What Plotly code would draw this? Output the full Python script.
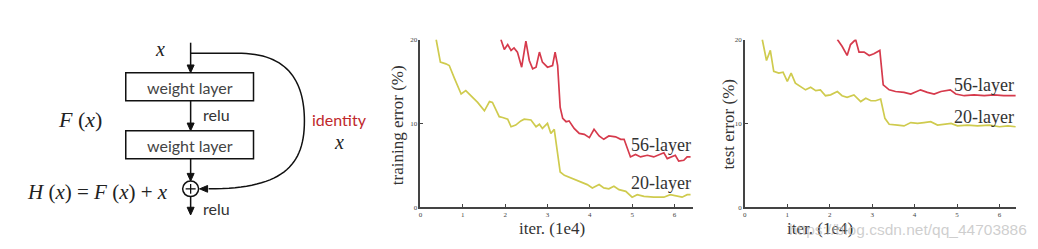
import plotly.graph_objects as go

W, H = 1038, 249

# ---- data ----
train20_x = [0.37, 0.47, 0.6, 0.68, 0.8, 0.96, 1.07, 1.19, 1.35, 1.51, 1.63, 1.70, 1.86, 1.94, 2.06, 2.14, 2.25, 2.37, 2.45, 2.61, 2.73, 2.81, 2.88, 3.0, 3.08, 3.16, 3.22, 3.3, 3.4, 3.55, 3.67, 3.83, 3.94, 4.06, 4.22, 4.33, 4.45, 4.57, 4.69, 4.85, 5.0, 5.12, 5.28, 5.51, 5.75, 5.9, 6.06, 6.18, 6.3, 6.38]
train20_y = [20, 17.3, 17.1, 16.9, 15.4, 13.5, 13.9, 13.3, 12.5, 11.5, 12.6, 12.5, 10.8, 10.7, 10.5, 9.6, 9.8, 10.3, 10.5, 10.4, 9.6, 9.9, 9.4, 10.0, 8.8, 9.3, 7.3, 4.2, 3.8, 3.5, 3.3, 2.9, 2.7, 2.3, 2.7, 2.3, 2.2, 2.5, 2.1, 1.9, 1.2, 1.5, 1.3, 1.2, 1.2, 1.5, 1.3, 1.2, 1.5, 1.5]
train56_x = [1.90, 1.98, 2.06, 2.14, 2.21, 2.29, 2.39, 2.49, 2.57, 2.65, 2.73, 2.81, 2.88, 3.0, 3.12, 3.18, 3.24, 3.3, 3.36, 3.44, 3.51, 3.63, 3.75, 3.87, 3.99, 4.1, 4.22, 4.33, 4.45, 4.61, 4.73, 4.81, 4.96, 5.08, 5.2, 5.36, 5.51, 5.75, 5.83, 5.94, 6.02, 6.1, 6.22, 6.3, 6.38]
train56_y = [20, 18.8, 19.4, 18.7, 19.0, 18.5, 16.7, 19.8, 17.5, 16.5, 16.7, 18.5, 17.3, 16.7, 16.9, 18.5, 16.9, 11.9, 10.6, 10.2, 10.3, 9.4, 8.8, 8.7, 8.3, 9.3, 8.5, 8.1, 8.5, 8.4, 8.1, 8.1, 6.0, 6.3, 6.0, 6.2, 6.0, 6.5, 5.8, 6.0, 6.2, 5.5, 5.6, 6.0, 6.0]
test20_x = [0.41, 0.51, 0.6, 0.68, 0.8, 0.9, 1.0, 1.09, 1.19, 1.31, 1.43, 1.55, 1.67, 1.78, 1.9, 2.02, 2.18, 2.29, 2.41, 2.57, 2.73, 2.85, 2.97, 3.08, 3.2, 3.3, 3.4, 3.6, 3.75, 3.91, 4.07, 4.22, 4.38, 4.54, 4.7, 4.86, 5.01, 5.25, 5.48, 5.76, 6.0, 6.2, 6.38]
test20_y = [20, 17.5, 18.7, 16.2, 16.0, 16.1, 15.0, 16.0, 14.8, 14.4, 14.0, 14.3, 13.9, 14.0, 13.3, 13.4, 13.8, 13.3, 13.1, 13.4, 12.6, 13.0, 12.7, 12.7, 12.9, 10.6, 9.9, 9.8, 9.7, 10.1, 10.0, 10.1, 10.2, 9.8, 9.9, 10.0, 9.7, 9.8, 9.7, 9.8, 9.6, 9.7, 9.6]
test56_x = [2.18, 2.29, 2.41, 2.49, 2.61, 2.69, 2.81, 2.93, 3.04, 3.18, 3.26, 3.4, 3.55, 3.75, 3.91, 4.14, 4.3, 4.46, 4.62, 4.84, 4.97, 5.17, 5.4, 5.64, 5.87, 6.1, 6.38]
test56_y = [20, 19.2, 18.1, 19.4, 20, 18.5, 18.5, 18.1, 18.3, 18.7, 14.6, 14.0, 13.8, 13.7, 13.5, 14.0, 13.7, 13.5, 13.8, 14.0, 13.5, 13.3, 13.4, 13.3, 13.4, 13.3, 13.3]

x_ticks = [0, 1, 2, 3, 4, 5, 6]
y_ticks = [0, 10, 20]

YELLOW = "#cfcb4e"
RED = "#d63a4c"

def px(x):
    return x / W

def py(y):
    return 1 - y / H

fig = go.Figure()
fig.add_trace(go.Scatter(x=train20_x, y=train20_y, mode="lines", line=dict(color=YELLOW, width=1.7), xaxis="x", yaxis="y"))
fig.add_trace(go.Scatter(x=train56_x, y=train56_y, mode="lines", line=dict(color=RED, width=1.7), xaxis="x", yaxis="y"))
fig.add_trace(go.Scatter(x=test20_x, y=test20_y, mode="lines", line=dict(color=YELLOW, width=1.7), xaxis="x2", yaxis="y2"))
fig.add_trace(go.Scatter(x=test56_x, y=test56_y, mode="lines", line=dict(color=RED, width=1.7), xaxis="x2", yaxis="y2"))

ydom = [py(210), py(36.7)]
axis_common = dict(showgrid=False, zeroline=False, showline=True, linecolor="#444", linewidth=1.6,
                   ticks="inside", ticklen=3, tickcolor="#444", tickwidth=1,
                   tickfont=dict(family="Liberation Serif", size=7, color="#444"))
fig.update_layout(
    width=W, height=H, margin=dict(l=0, r=0, t=0, b=0),
    paper_bgcolor="white", plot_bgcolor="white", showlegend=False,
    xaxis=dict(domain=[px(419.3), px(692)], range=[0, 6.43], tickvals=x_ticks, anchor="y", **axis_common),
    yaxis=dict(domain=ydom, range=[0, 20], tickvals=y_ticks, anchor="x", **axis_common),
    xaxis2=dict(domain=[px(744.3), px(1016)], range=[0, 6.39], tickvals=x_ticks, anchor="y2", **axis_common),
    yaxis2=dict(domain=ydom, range=[0, 20], tickvals=y_ticks, anchor="x2", **axis_common),
)

ann = []
def text(x, y, s, size, family, color="#333", angle=0, xanchor="center", italic=False):
    if italic:
        s = "<i>" + s + "</i>"
    ann.append(dict(x=px(x), y=py(y), xref="paper", yref="paper", text=s, showarrow=False,
                    font=dict(family=family, size=size, color=color), textangle=angle,
                    xanchor=xanchor, yanchor="middle"))

SERIF = "Liberation Serif"
SANS = "Lato"
# chart texts
text(397, 125, "training error (%)", 17, SERIF, "#333", angle=-90)
text(727, 124, "test error (%)", 17, SERIF, "#333", angle=-90)
text(551, 232, "iter. (1e4)", 17, SERIF, "#333")
text(820, 232, "iter. (1e4)", 17, SERIF, "#333")
text(1029, 233, "https://blog.csdn.net/qq_44703886", 15.5, "Liberation Sans", "rgba(190,190,190,0.75)", xanchor="right")
for xr, yy, s in [("x", 7.4, "56-layer"), ("x", 2.9, "20-layer"), ("x2", 14.6, "56-layer"), ("x2", 10.8, "20-layer")]:
    yr = "y" if xr == "x" else "y2"
    ann.append(dict(x=6.43 if xr == "x" else 6.39, y=yy, xref=xr, yref=yr, text=s, showarrow=False,
                    xanchor="right", yanchor="middle", font=dict(family=SERIF, size=18, color="#333")))

# diagram texts
text(158, 46, "x", 20, SERIF, "#222", italic=True)
text(188, 86, "weight layer", 16, SANS, "#444")
text(188, 146, "weight layer", 16, SANS, "#444")
text(199, 114, "relu", 16, SANS, "#333", xanchor="left")
text(199, 211, "relu", 16, SANS, "#333", xanchor="left")
text(78, 119, "F</i> (<i>x</i>)<i>", 22, SERIF, "#222", italic=True)
text(309, 119, "identity", 16, SANS, "#c0282c", xanchor="left")
text(338, 143, "x", 20, SERIF, "#222", italic=True)
text(168, 194, "H</i> (<i>x</i>) = <i>F</i> (<i>x</i>) + <i>x", 21, SERIF, "#222", italic=True, xanchor="right")

shapes = []
LC = "#111"
def line(x0, y0, x1, y1, w=1.5):
    shapes.append(dict(type="line", xref="paper", yref="paper", x0=px(x0), y0=py(y0), x1=px(x1), y1=py(y1),
                       line=dict(color=LC, width=w)))

def rect(x0, y0, x1, y1):
    shapes.append(dict(type="rect", xref="paper", yref="paper", x0=px(x0), y0=py(y0), x1=px(x1), y1=py(y1),
                       line=dict(color=LC, width=1.5), fillcolor="white"))

def path(points, closed=True, fill=LC, w=1):
    d = "M " + " L ".join(f"{px(a):.5f},{py(b):.5f}" for a, b in points)
    if closed:
        d += " Z"
    shapes.append(dict(type="path", xref="paper", yref="paper", path=d, fillcolor=fill,
                       line=dict(color=LC, width=w)))

def arrow_down(x, ytip):
    path([(x - 3.5, ytip - 8), (x + 3.5, ytip - 8), (x, ytip)])

def arrow_left(xtip, y):
    path([(xtip + 8, y - 3.5), (xtip + 8, y + 3.5), (xtip, y)])

CX = 189
line(CX, 40, CX, 66)
arrow_down(CX, 71)
rect(124, 71, 252, 100)
line(CX, 100, CX, 126)
arrow_down(CX, 131)
rect(124, 131, 252, 160)
line(CX, 160, CX, 178)
arrow_down(CX, 183)
shapes.append(dict(type="circle", xref="paper", yref="paper", x0=px(CX - 8), x1=px(CX + 8), y0=py(183), y1=py(199),
                   line=dict(color=LC, width=1.5), fillcolor="white"))
line(CX - 5, 191, CX + 5, 191, 1.3)
line(CX, 186, CX, 196, 1.3)
line(CX, 199, CX, 212)
arrow_down(CX, 218)

# identity curve
def bez(p0, p1, p2, p3, n=30):
    pts = []
    for i in range(n + 1):
        t = i / n
        a = (1 - t) ** 3; b = 3 * (1 - t) ** 2 * t; c = 3 * (1 - t) * t ** 2; d = t ** 3
        pts.append((a * p0[0] + b * p1[0] + c * p2[0] + d * p3[0], a * p0[1] + b * p1[1] + c * p2[1] + d * p3[1]))
    return pts

curve = [(CX, 51), (240, 51)]
curve += bez((240, 51), (288, 52), (303, 82), (303, 121))[1:]
curve += bez((303, 121), (303, 168), (280, 191), (207, 191))[1:]
path(curve, closed=False, fill="rgba(0,0,0,0)", w=1.5)
arrow_left(198, 191)

fig.update_layout(annotations=ann, shapes=shapes)
fig.write_html("out.html")
